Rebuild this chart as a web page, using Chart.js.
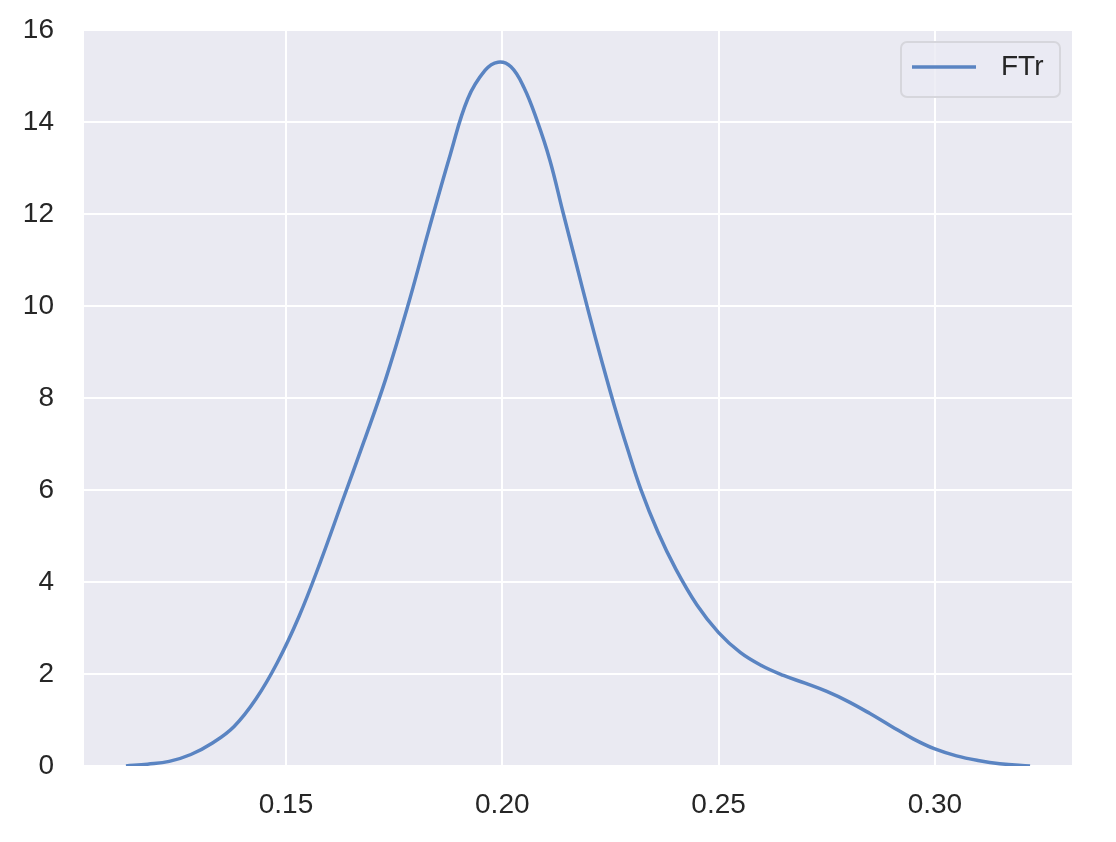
<!DOCTYPE html>
<html>
<head>
<meta charset="utf-8">
<script src="https://cdn.jsdelivr.net/npm/chart.js@4.4.1/dist/chart.umd.min.js"></script>
<style>
  html, body { margin: 0; padding: 0; background: #fff; }
  #wrap { width: 1116px; height: 842px; }
</style>
</head>
<body>
<div id="wrap"><canvas id="myChart" width="1116" height="842"></canvas></div>
<script>
// KDE curve
let xVals = [0.113, 0.118, 0.123, 0.128, 0.133, 0.138, 0.143, 0.148, 0.153, 0.158,
             0.163, 0.168, 0.173, 0.178, 0.183, 0.188, 0.192, 0.196, 0.199, 0.202,
             0.205, 0.208, 0.211, 0.214, 0.217, 0.220, 0.223, 0.226, 0.229, 0.232,
             0.236, 0.240, 0.245, 0.250, 0.255, 0.260, 0.265, 0.270, 0.275, 0.280,
             0.285, 0.290, 0.295, 0.300, 0.305, 0.310, 0.315, 0.322];
let density = [0.0, 0.04, 0.10, 0.25, 0.50, 0.86, 1.45, 2.25, 3.25, 4.45,
               5.75, 7.05, 8.4, 9.95, 11.65, 13.3, 14.5, 15.12, 15.3, 15.2,
               14.75, 14.04, 13.17, 12.05, 10.95, 9.85, 8.8, 7.8, 6.88, 6.02,
               5.08, 4.3, 3.5, 2.9, 2.47, 2.18, 1.97, 1.80, 1.62, 1.40,
               1.14, 0.86, 0.59, 0.37, 0.22, 0.12, 0.05, 0.0];
let xTicks = [0.15, 0.20, 0.25, 0.30];
let seriesName = 'FTr';

let lineColor = '#5a84c2';
let font = { family: "'Liberation Sans', Arial, sans-serif", size: 28 };

const plotBg = {
    id: 'plotBg',
    beforeDraw(chart) {
        let a = chart.chartArea;
        let ctx = chart.ctx;
        ctx.save();
        ctx.fillStyle = '#eaeaf2';
        ctx.fillRect(a.left, a.top, a.right - a.left, a.bottom - a.top);
        ctx.restore();
    }
};

const boxLegend = {
    id: 'boxLegend',
    afterDraw(chart) {
        let ctx = chart.ctx;
        let ds = chart.data.datasets[0];
        let x = 901, y = 42, w = 159, h = 55, r = 6;
        ctx.save();
        ctx.beginPath();
        ctx.roundRect(x, y, w, h, r);
        ctx.fillStyle = 'rgba(234,234,242,0.8)';
        ctx.fill();
        ctx.strokeStyle = '#d6d6dc';
        ctx.lineWidth = 2;
        ctx.stroke();
        ctx.beginPath();
        ctx.moveTo(912, 67);
        ctx.lineTo(976, 67);
        ctx.strokeStyle = ds.borderColor;
        ctx.lineWidth = 3.5;
        ctx.stroke();
        ctx.fillStyle = '#262626';
        ctx.font = font.size + 'px ' + font.family;
        ctx.textBaseline = 'middle';
        ctx.fillText(ds.label, 1001, 67);
        ctx.restore();
    }
};

let ctx = document.getElementById('myChart').getContext('2d');
new Chart(ctx, {
    type: 'line',
    data: {
        datasets: [{
            label: seriesName,
            data: xVals.map((x, i) => ({ x: x, y: density[i] })),
            borderColor: lineColor,
            borderWidth: 3.5,
            pointRadius: 0,
            tension: 0.4,
            fill: false
        }]
    },
    options: {
        responsive: false,
        animation: false,
        layout: { padding: { top: 30, right: 44, left: 0, bottom: 0 } },
        plugins: {
            legend: { display: false },
            tooltip: { enabled: false }
        },
        scales: {
            x: {
                type: 'linear',
                min: 0.1033,
                max: 0.3317,
                afterBuildTicks: s => { s.ticks = xTicks.map(v => ({ value: v })); },
                afterFit: s => { s.height = 76; s.paddingLeft = 0; s.paddingRight = 0; },
                border: { display: false },
                grid: { color: '#ffffff', lineWidth: 2, drawTicks: false },
                ticks: {
                    color: '#262626',
                    font: font,
                    padding: 22,
                    maxRotation: 0,
                    callback: v => v.toFixed(2)
                }
            },
            y: {
                min: 0,
                max: 16,
                afterFit: s => { s.width = 84; s.paddingTop = 0; s.paddingBottom = 0; },
                border: { display: false },
                grid: { color: '#ffffff', lineWidth: 2, drawTicks: false },
                ticks: {
                    color: '#262626',
                    font: font,
                    stepSize: 2,
                    padding: 30
                }
            }
        }
    },
    plugins: [plotBg, boxLegend]
});
</script>
</body>
</html>
